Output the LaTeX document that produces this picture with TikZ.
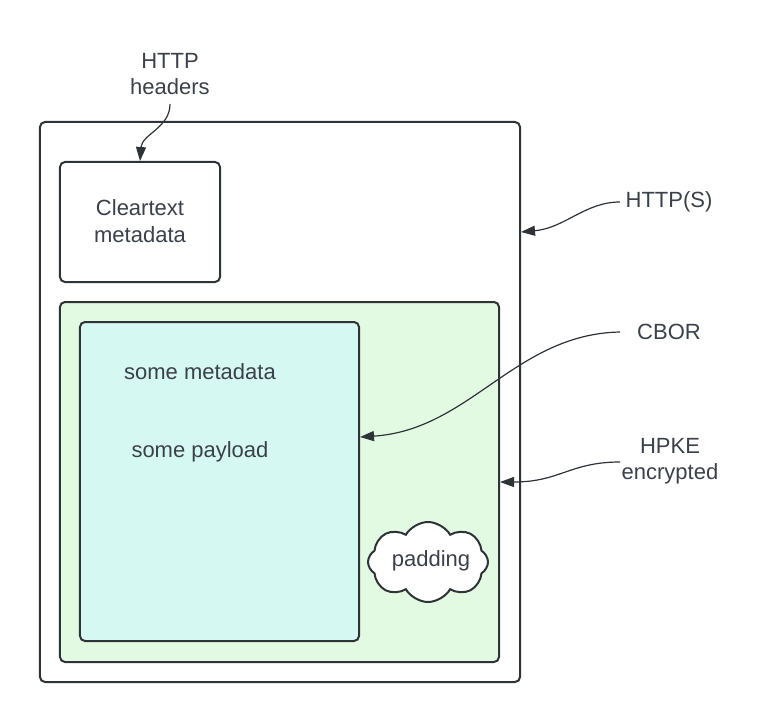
\documentclass[tikz,border=0pt]{standalone}
\usepackage{fontspec}
\setmainfont{Liberation Sans}
\usetikzlibrary{shapes.symbols,arrows.meta}
\definecolor{ln}{HTML}{2E3338}
\definecolor{tx}{HTML}{3A414A}
\definecolor{grn}{HTML}{E3FAE2}
\definecolor{cyn}{HTML}{D6F8F3}
\begin{document}
\begin{tikzpicture}[x=1bp,y=-1bp,
  font=\fontsize{22bp}{26.5bp}\selectfont,
  box/.style={draw=ln, line width=2bp, rounded corners=5bp, inner sep=0pt},
  lbl/.style={text=tx, align=center, inner sep=0pt},
  conn/.style={draw=ln, line width=1.2bp, -{Triangle[length=14bp,width=10bp]}}]
\useasboundingbox (0,0) rectangle (760,722);
\node[box, fill=white, minimum width=480bp, minimum height=560bp] (outer) at (280,402) {};
\node[box, fill=white, minimum width=160bp, minimum height=120bp] (clr) at (140,222) {};
\node[lbl] (clrtxt) at (140,221) {Cleartext\\metadata};
\node[box, fill=grn, minimum width=439bp, minimum height=360bp] (green) at (279.5,482) {};
\node[box, fill=cyn, minimum width=279bp, minimum height=319bp] (cyan) at (219.5,481.5) {};
\node[lbl] (meta) at (200,372) {some metadata};
\node[lbl] (pay) at (200,452) {some payload};
\node[cloud, draw=ln, line width=2bp, fill=white, cloud puffs=8, cloud puff arc=120, aspect=1.5,
  minimum width=120bp, minimum height=80bp, inner sep=0pt, text=tx] (pad) at (428,562) {};
\node[lbl] (padtxt) at (431,561) {padding};
\node[lbl] (hh) at (170,74) {HTTP\\headers};
\node[lbl] (hs) at (669,202) {HTTP(S)};
\node[lbl] (cb) at (669,332) {CBOR};
\node[lbl] (hp) at (670,461) {HPKE\\encrypted};
\coordinate (y1) at (0,232);
\coordinate (y2) at (0,437);
\coordinate (y3) at (0,482);
\coordinate (s0) at (170,104);
\coordinate (s1) at (620,202);
\coordinate (s2) at (620,332);
\coordinate (s3) at (620,462);
\draw[conn] (s0) .. controls (170,128) and (142,134) .. (clr.north);
\draw[conn] (s1) .. controls (585,202) and (565,228) .. (outer.east |- y1);
\draw[conn] (s2) .. controls (515,334) and (470,430) .. (cyan.east |- y2);
\draw[conn] (s3) .. controls (570,462) and (560,482) .. (green.east |- y3);
\end{tikzpicture}
\end{document}
